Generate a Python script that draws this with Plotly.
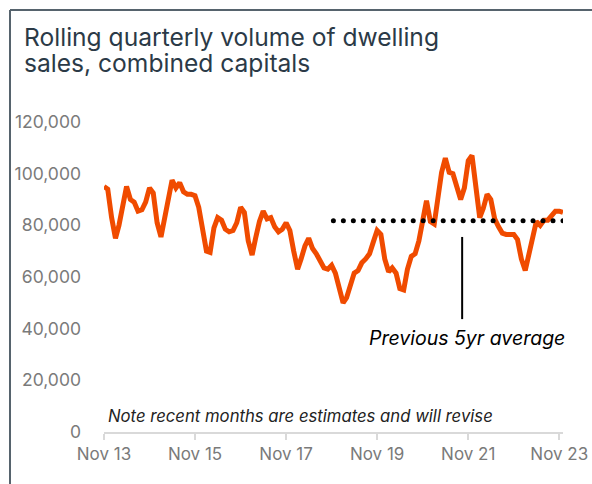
import pandas as pd
import plotly.graph_objects as go

# ---- data ----
START_MONTH = "2013-11-01"
sales_volume = [
    95000, 94000, 83000, 75000, 80000, 89000, 95000, 90000, 89000, 85500,
    86000, 89000, 94500, 92500, 81000, 75500, 83000, 91000, 97500, 94500,
    96500, 93000, 92000, 92000, 91500, 87000, 77000, 70000, 69500, 79000,
    83000, 82000, 78500, 77500, 78000, 81000, 87000, 85000, 74000, 68500,
    75000, 81500, 85500, 82500, 83000, 79500, 77500, 78500, 81000, 78000,
    70000, 63000, 67000, 72000, 75000, 71000, 69000, 66000, 63500, 63000,
    64500, 61500, 55500, 50000, 52000, 57000, 61500, 62500, 65500, 67000,
    69000, 73500, 78000, 76500, 67000, 62000, 63500, 61500, 55500, 55000,
    63000, 68000, 69000, 74000, 81000, 89500, 81500, 80500, 90000, 100500,
    106000, 100500, 100000, 94000, 90000, 94500, 105000, 107000, 94000, 83000,
    86500, 92000, 90000, 82500, 79500, 77000, 76500, 76500, 76500, 74500,
    67000, 62500, 68000, 75500, 81500, 80000, 82000, 82000, 83500, 85500,
    85500, 85000,
]
months = pd.date_range(START_MONTH, periods=len(sales_volume), freq="MS")

avg_value = 81800
avg_start = "2018-11-15"
avg_end = "2023-12-01"
avg_label = "Previous 5yr average"
pointer_date = "2021-09-13"
pointer_low, pointer_high = 43700, 75500

tick_dates = ["2013-11-01", "2015-11-01", "2017-11-01", "2019-11-01", "2021-11-01", "2023-11-01"]
tick_labels = ["Nov 13", "Nov 15", "Nov 17", "Nov 19", "Nov 21", "Nov 23"]
y_ticks = [0, 20000, 40000, 60000, 80000, 100000, 120000]

title_lines = ["Rolling quarterly volume of dwelling", "sales, combined capitals"]
note_text = "Note recent months are estimates and will revise"

# ---- layout geometry (pixels) ----
W, H = 592, 484
L, R, T, B = 104, 29, 122, 52
PW, PH = W - L - R, H - T - B


def px_x(px):
    return (px - L) / PW


def px_y(py):
    return (H - B - py) / PH


FONT = "Inter"
ORANGE = "#F04B00"
GREY = "#7a7a7a"
AXIS = "#d9d9d9"
TITLE = "#2b3a47"

fig = go.Figure()

fig.add_trace(go.Scatter(
    x=months, y=sales_volume, mode="lines",
    line=dict(color=ORANGE, width=5), hoverinfo="skip", showlegend=False,
))

dot_x = pd.date_range(avg_start, avg_end, periods=24)
fig.add_trace(go.Scatter(
    x=dot_x, y=[avg_value] * len(dot_x), mode="markers",
    marker=dict(color="black", size=5), hoverinfo="skip", showlegend=False,
))

fig.add_shape(type="line", xref="x", yref="y",
              x0=pointer_date, x1=pointer_date, y0=pointer_low, y1=pointer_high,
              line=dict(color="black", width=2))

# frame lines
fig.add_shape(type="line", xref="paper", yref="paper",
              x0=px_x(10), x1=px_x(W + 5), y0=px_y(10), y1=px_y(10),
              line=dict(color="#56636d", width=2))
fig.add_shape(type="line", xref="paper", yref="paper",
              x0=px_x(10), x1=px_x(10), y0=px_y(10), y1=px_y(H + 5),
              line=dict(color="#56636d", width=2))

for t, base in zip(title_lines, [48, 74]):
    fig.add_annotation(text=t, xref="paper", yref="paper",
                       x=px_x(22), y=px_y(base + 6), xanchor="left", yanchor="bottom",
                       showarrow=False, font=dict(family=FONT, size=24.6, color=TITLE))

fig.add_annotation(text=f"<i>{avg_label}</i>", xref="paper", yref="paper",
                   x=px_x(467), y=px_y(338), xanchor="center", yanchor="middle",
                   showarrow=False, font=dict(family=FONT, size=19.5, color="black"))

fig.add_annotation(text=f"<i>{note_text}</i>", xref="paper", yref="paper",
                   x=px_x(106), y=px_y(416), xanchor="left", yanchor="middle",
                   showarrow=False, font=dict(family=FONT, size=16.7, color="#222222"))

fig.update_layout(
    width=W, height=H,
    margin=dict(l=L, r=R, t=T, b=B, pad=0),
    paper_bgcolor="white", plot_bgcolor="white",
    showlegend=False,
    font=dict(family=FONT, color=GREY),
)
fig.update_xaxes(
    type="date", range=[START_MONTH, "2023-12-01"], automargin=False,
    tickvals=tick_dates, ticktext=tick_labels,
    showgrid=False, zeroline=False,
    showline=True, linecolor=AXIS, linewidth=2,
    ticks="outside", ticklen=6, tickcolor=AXIS, tickwidth=2,
    tickfont=dict(family=FONT, size=17, color=GREY),
)
fig.update_yaxes(
    range=[0, 120000], tickvals=y_ticks, tickformat=",", automargin=False,
    showgrid=False, zeroline=False, showline=False, ticks="",
    ticklabelstandoff=22,
    tickfont=dict(family=FONT, size=17.5, color=GREY),
)

fig.write_html("out.html", config={"displayModeBar": False},
               post_script="document.body.style.margin='0';")
